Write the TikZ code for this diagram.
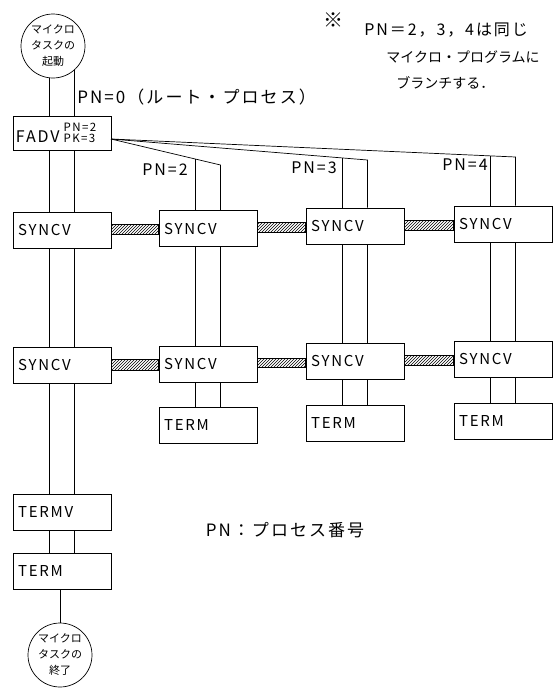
\documentclass[tikz,border=0pt]{standalone}
\usepackage{fontspec}
\setmainfont{Noto Sans CJK JP}
\newfontfamily\handfont[LetterSpace=12]{Noto Sans CJK JP}
\usetikzlibrary{patterns, backgrounds}
\tikzset{
    procbox/.style={draw, line width=0.7pt, text width=88pt, inner xsep=5pt, minimum height=36pt, align=left, font=\handfont\fontsize{15}{17}\selectfont},
    taskcircle/.style={draw, circle, fill=white, line width=0.7pt, minimum size=64pt, inner sep=0pt, align=center, font=\fontsize{11}{16}\selectfont},
    syncbar/.style={draw, line width=0.7pt, pattern=north east lines},
    notelabel/.style={font=\handfont\fontsize{14}{26}\selectfont, inner sep=0pt}
}

\begin{document}
\begin{tikzpicture}[x=1pt, y=-1pt, line width=0.7pt]
    \useasboundingbox (0,0) rectangle (556,689);

    % root process, PN=0
    \node[taskcircle] (start) at (53,46) {マイクロ\\タスクの\\起動};
    \node[procbox, minimum height=34pt, inner xsep=3pt, text width=92pt] (fadv) at (62,133)
        {{\fontsize{16}{18}\selectfont FADV}\hspace{4pt}{\fontsize{11.5}{12.5}\selectfont\shortstack[l]{PN=2\\PK=3}}};
    \node[notelabel, anchor=west, font=\handfont\fontsize{17}{20}\selectfont] (pn0) at (77,97) {PN=0（ルート・プロセス）};
    \node[procbox] (syncl1) at (62,230) {SYNCV};
    \node[procbox] (syncl2) at (62,365) {SYNCV};
    \node[procbox] (termv) at (62,512) {TERMV};
    \node[procbox] (terml) at (62,571) {TERM};
    \node[taskcircle] (finish) at (60,655) {マイクロ\\タスクの\\終了};

    % PN=2
    \node[procbox] (syncb1) at (208,228.5) {SYNCV};
    \node[procbox] (syncb2) at (208,364) {SYNCV};
    \node[procbox] (termb) at (208,425) {TERM};
    \node[notelabel, anchor=east, font=\handfont\fontsize{16}{18}\selectfont] (pn2) at (188,170) {PN=2};

    % PN=3
    \node[procbox] (syncc1) at (355,226) {SYNCV};
    \node[procbox] (syncc2) at (355,361) {SYNCV};
    \node[procbox] (termc) at (355,423) {TERM};
    \node[notelabel, anchor=east, font=\handfont\fontsize{16}{18}\selectfont] (pn3) at (337,168) {PN=3};

    % PN=4
    \node[procbox] (syncd1) at (503,224) {SYNCV};
    \node[procbox] (syncd2) at (503,359) {SYNCV};
    \node[procbox] (termd) at (503,421) {TERM};
    \node[notelabel, anchor=east, font=\handfont\fontsize{16}{18}\selectfont] (pn4) at (488,165) {PN=4};

    % notes
    \node[notelabel, font=\fontsize{20}{22}\selectfont] (kome) at (333,20) {※};
    \node[notelabel, anchor=west, font=\handfont\fontsize{16}{18}\selectfont] (note1) at (364,30) {PN＝2，3，4は同じ};
    \node[notelabel, anchor=west, font=\fontsize{14}{16}\selectfont] (note2) at (386,57) {マイクロ・プログラムに};
    \node[notelabel, anchor=west, font=\fontsize{14}{16}\selectfont] (note3) at (396,83) {ブランチする．};
    \node[notelabel, font=\handfont\fontsize{17}{20}\selectfont] (legend) at (285,530) {PN：プロセス番号};

    % rails into the start circle (hidden behind it)
    \begin{scope}[on background layer]
        \draw ([xshift=-12.5pt]fadv.north) -- ([xshift=-12.5pt]fadv.north |- start.center);
        \draw ([xshift=12.5pt]fadv.north) -- ([xshift=12.5pt]fadv.north |- start.center);
    \end{scope}

    % left column rails
    \draw ([xshift=-12.5pt]fadv.south) -- ([xshift=-12.5pt]syncl1.north);
    \draw ([xshift=12.5pt]fadv.south) -- ([xshift=12.5pt]syncl1.north);
    \draw ([xshift=-12.5pt]syncl1.south) -- ([xshift=-12.5pt]syncl2.north);
    \draw ([xshift=12.5pt]syncl1.south) -- ([xshift=12.5pt]syncl2.north);
    \draw ([xshift=-12.5pt]syncl2.south) -- ([xshift=-12.5pt]termv.north);
    \draw ([xshift=12.5pt]syncl2.south) -- ([xshift=12.5pt]termv.north);
    \draw ([xshift=-12.5pt]termv.south) -- ([xshift=-12.5pt]terml.north);
    \draw ([xshift=12.5pt]termv.south) -- ([xshift=12.5pt]terml.north);
    \draw (terml.south -| finish.north) -- (finish.north);

    % branches out of FADV
    \coordinate (fan) at (111,139);
    \coordinate (top2) at (220.5,165);
    \coordinate (cut2) at (195.5,159);
    \coordinate (top3) at (367.5,160);
    \coordinate (cut3) at (342.5,158);
    \coordinate (top4) at (515.5,157);
    \coordinate (cut4) at (490.5,156);
    \draw (fan) -- (top2) -- ([xshift=12.5pt]syncb1.north);
    \draw (cut2) -- ([xshift=-12.5pt]syncb1.north);
    \draw (fan) -- (top3) -- ([xshift=12.5pt]syncc1.north);
    \draw (cut3) -- ([xshift=-12.5pt]syncc1.north);
    \draw (fan) -- (top4) -- ([xshift=12.5pt]syncd1.north);
    \draw (cut4) -- ([xshift=-12.5pt]syncd1.north);

    % branch column rails
    \draw ([xshift=-12.5pt]syncb1.south) -- ([xshift=-12.5pt]syncb2.north);
    \draw ([xshift=12.5pt]syncb1.south) -- ([xshift=12.5pt]syncb2.north);
    \draw ([xshift=-12.5pt]syncb2.south) -- ([xshift=-12.5pt]termb.north);
    \draw ([xshift=12.5pt]syncb2.south) -- ([xshift=12.5pt]termb.north);
    \draw ([xshift=-12.5pt]syncc1.south) -- ([xshift=-12.5pt]syncc2.north);
    \draw ([xshift=12.5pt]syncc1.south) -- ([xshift=12.5pt]syncc2.north);
    \draw ([xshift=-12.5pt]syncc2.south) -- ([xshift=-12.5pt]termc.north);
    \draw ([xshift=12.5pt]syncc2.south) -- ([xshift=12.5pt]termc.north);
    \draw ([xshift=-12.5pt]syncd1.south) -- ([xshift=-12.5pt]syncd2.north);
    \draw ([xshift=12.5pt]syncd1.south) -- ([xshift=12.5pt]syncd2.north);
    \draw ([xshift=-12.5pt]syncd2.south) -- ([xshift=-12.5pt]termd.north);
    \draw ([xshift=12.5pt]syncd2.south) -- ([xshift=12.5pt]termd.north);

    % sync bars
    \draw[syncbar] ([yshift=6pt]syncl1.east) rectangle ([yshift=-6pt]syncb1.west);
    \draw[syncbar] ([yshift=6pt]syncb1.east) rectangle ([yshift=-6pt]syncc1.west);
    \draw[syncbar] ([yshift=6pt]syncc1.east) rectangle ([yshift=-6pt]syncd1.west);
    \draw[syncbar] ([yshift=6pt]syncl2.east) rectangle ([yshift=-6pt]syncb2.west);
    \draw[syncbar] ([yshift=6pt]syncb2.east) rectangle ([yshift=-6pt]syncc2.west);
    \draw[syncbar] ([yshift=6pt]syncc2.east) rectangle ([yshift=-6pt]syncd2.west);
\end{tikzpicture}
\end{document}
